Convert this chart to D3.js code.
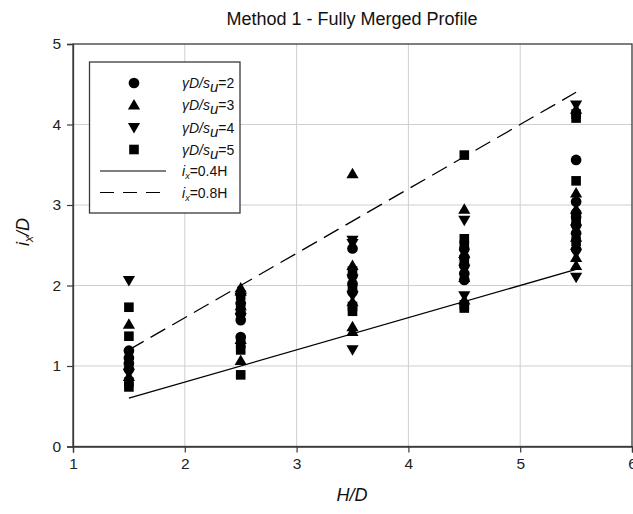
<!DOCTYPE html>
<html>
<head>
<meta charset="utf-8">
<script src="https://cdn.jsdelivr.net/npm/d3@7"></script>
<style>
  html, body { margin: 0; padding: 0; background: #fff; }
  svg { display: block; font-family: "Liberation Sans", Arial, sans-serif; }
</style>
</head>
<body>
<svg id="chart" width="633" height="514"></svg>
<script>
// H/D positions of the tested cases
const hdValues = [1.5, 2.5, 3.5, 4.5, 5.5];

// i_x/D results, one list per H/D value, for each normalised strength gamma*D/s_u
const ratio2 = [
  [1.19, 1.10, 1.03, 0.96],
  [1.78, 1.65, 1.57, 1.36],
  [2.46, 2.12, 2.02, 1.92],
  [2.45, 2.35, 2.25, 2.15, 2.07],
  [3.56, 3.04, 2.90, 2.85, 2.75, 2.65, 2.45]
];
const ratio3 = [
  [1.52, 0.87],
  [1.97, 1.93, 1.75, 1.33, 1.07],
  [3.39, 2.25, 1.80, 1.49, 1.43],
  [2.95, 2.40, 2.10, 1.82],
  [4.19, 3.15, 2.95, 2.60, 2.35, 2.25]
];
const ratio4 = [
  [2.06, 0.91],
  [1.85, 1.60],
  [2.56, 2.52, 2.08, 1.87, 1.20],
  [2.81, 2.20, 1.87],
  [4.24, 2.70, 2.40, 2.10]
];
const ratio5 = [
  [1.73, 1.37, 0.80, 0.74],
  [1.88, 1.70, 1.28, 1.20, 0.89],
  [2.18, 1.97, 1.74, 1.68],
  [3.62, 2.58, 2.50, 2.30, 1.76, 1.72],
  [4.13, 4.08, 3.30, 2.80, 2.55]
];

// Reference relations i_x = 0.4H and i_x = 0.8H over the tested range
const lineX = [1.5, 5.5];
const slopeSolid = 0.4;
const slopeDashed = 0.8;

const xTicks = [1, 2, 3, 4, 5, 6];
const yTicks = [0, 1, 2, 3, 4, 5];
const seriesLabels = ["2", "3", "4", "5"];

const svg = d3.select("#chart");
const plotLeft = 73, plotRight = 632, plotTop = 44, plotBottom = 446.5;

const x = d3.scaleLinear().domain([1, 6]).range([plotLeft, plotRight]);
const y = d3.scaleLinear().domain([0, 5]).range([plotBottom, plotTop]);

// grid
svg.append("g").selectAll("line").data(xTicks.slice(1, -1)).join("line")
  .attr("x1", d => x(d)).attr("x2", d => x(d))
  .attr("y1", plotTop).attr("y2", plotBottom)
  .attr("stroke", "#cfcfcf").attr("stroke-width", 1);
svg.append("g").selectAll("line").data(yTicks.slice(1, -1)).join("line")
  .attr("x1", plotLeft).attr("x2", plotRight)
  .attr("y1", d => y(d)).attr("y2", d => y(d))
  .attr("stroke", "#cfcfcf").attr("stroke-width", 1);

// frame
svg.append("rect")
  .attr("x", plotLeft).attr("y", plotTop)
  .attr("width", plotRight - plotLeft).attr("height", plotBottom - plotTop)
  .attr("fill", "none").attr("stroke", "#3a3a3a").attr("stroke-width", 1.3);

// axes
const xAxis = d3.axisBottom(x).tickValues(xTicks).tickSize(6).tickPadding(5).tickFormat(d3.format("d"));
const yAxis = d3.axisLeft(y).tickValues(yTicks).tickSize(6).tickPadding(6).tickFormat(d3.format("d"));
const gx = svg.append("g").attr("transform", `translate(0,${plotBottom})`).call(xAxis);
const gy = svg.append("g").attr("transform", `translate(${plotLeft},0)`).call(yAxis);
[gx, gy].forEach(g => {
  g.select(".domain").attr("stroke", "#3a3a3a").attr("stroke-width", 1.3);
  g.selectAll(".tick line").attr("stroke", "#3a3a3a").attr("stroke-width", 1.2);
  g.selectAll(".tick text").attr("font-size", 15.5).attr("fill", "#222")
    .attr("font-family", "Liberation Sans, Arial, sans-serif");
});

// reference lines
const lineGen = d3.line().x(d => x(d[0])).y(d => y(d[1]));
svg.append("path")
  .datum(lineX.map(h => [h, slopeSolid * h]))
  .attr("d", lineGen).attr("fill", "none").attr("stroke", "#000").attr("stroke-width", 1.3);
svg.append("path")
  .datum(lineX.map(h => [h, slopeDashed * h]))
  .attr("d", lineGen).attr("fill", "none").attr("stroke", "#000").attr("stroke-width", 1.3)
  .attr("stroke-dasharray", "17,8");

// marker shapes
const markerPaths = {
  circle: d3.symbol().type(d3.symbolCircle).size(90)(),
  up: "M0,-5.9L6.1,4.6L-6.1,4.6Z",
  down: "M0,5.9L6.1,-4.6L-6.1,-4.6Z",
  square: "M-4.8,-4.8H4.8V4.8H-4.8Z"
};
const series = [
  { values: ratio2, shape: "circle" },
  { values: ratio3, shape: "up" },
  { values: ratio4, shape: "down" },
  { values: ratio5, shape: "square" }
];

series.forEach(s => {
  const pts = [];
  s.values.forEach((col, i) => col.forEach(v => pts.push([hdValues[i], v])));
  svg.append("g").selectAll("path").data(pts).join("path")
    .attr("d", markerPaths[s.shape])
    .attr("transform", d => `translate(${x(d[0])},${y(d[1])})`)
    .attr("fill", "#000");
});

// legend
const lg = svg.append("g");
lg.append("rect").attr("x", 89.5).attr("y", 62).attr("width", 150.5).attr("height", 151)
  .attr("fill", "#fff").attr("stroke", "#3a3a3a").attr("stroke-width", 1.3);
const rowY = [83, 105, 127.5, 149.5, 171, 192.5];
const symX = 134, textX = 182;

series.forEach((s, i) => {
  lg.append("path").attr("d", markerPaths[s.shape])
    .attr("transform", `translate(${symX},${rowY[i]})`).attr("fill", "#000");
  const t = lg.append("text").attr("x", textX).attr("y", rowY[i] + 5)
    .attr("font-size", 14).attr("fill", "#111");
  t.append("tspan").attr("font-style", "italic").text("\u03b3D/s");
  t.append("tspan").attr("font-style", "italic").attr("dy", 4).attr("font-size", 15).text("u");
  t.append("tspan").attr("dy", -4).text("=" + seriesLabels[i]);
});

const lineLegend = [
  { label: "=0.4H", dash: null },
  { label: "=0.8H", dash: "14,9" }
];
lineLegend.forEach((l, j) => {
  const yy = rowY[4 + j];
  lg.append("line").attr("x1", 100).attr("x2", 166).attr("y1", yy).attr("y2", yy)
    .attr("stroke", "#000").attr("stroke-width", 1.2)
    .attr("stroke-dasharray", l.dash);
  const t = lg.append("text").attr("x", textX).attr("y", yy + 5)
    .attr("font-size", 14).attr("fill", "#111");
  t.append("tspan").attr("font-style", "italic").text("i");
  t.append("tspan").attr("font-style", "italic").attr("dy", 3).attr("font-size", 9).text("x");
  t.append("tspan").attr("dy", -3).text(l.label);
});

// title and axis labels
svg.append("text").attr("x", 352).attr("y", 25).attr("text-anchor", "middle")
  .attr("font-size", 18).attr("fill", "#111").text("Method 1 - Fully Merged Profile");

svg.append("text").attr("x", 352).attr("y", 501).attr("text-anchor", "middle")
  .attr("font-size", 18).attr("font-style", "italic").attr("fill", "#111").text("H/D");

const yl = svg.append("text").attr("transform", "translate(29,232) rotate(-90)")
  .attr("text-anchor", "middle").attr("font-size", 18).attr("font-style", "italic").attr("fill", "#111");
yl.append("tspan").text("i");
yl.append("tspan").attr("dy", 4).attr("font-size", 12).text("x");
yl.append("tspan").attr("dy", -4).text("/D");
</script>
</body>
</html>
